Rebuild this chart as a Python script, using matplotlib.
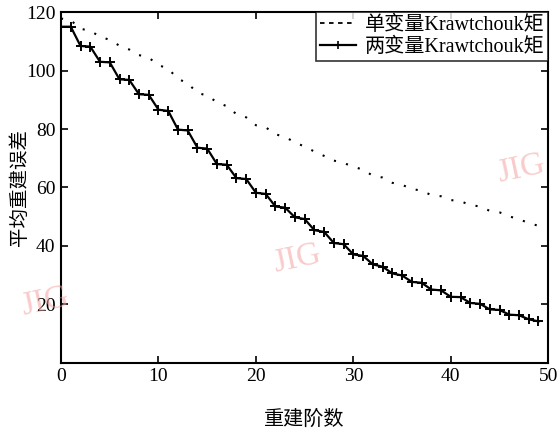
import numpy as np
import matplotlib.pyplot as plt
from matplotlib.lines import Line2D

plt.rcParams['font.family'] = ['Liberation Serif', 'Noto Sans CJK SC']
plt.rcParams['mathtext.fontset'] = 'stix'

# reconstruction order
order = np.arange(50)

# single-variable Krawtchouk moments (dotted)
err_single = [117.8, 117.2, 114.3, 113.6, 111.6, 110.5, 108.5, 107.2, 105.3, 104.4,
              101.9, 100.6, 97.2, 95.6, 92.4, 91.4, 89.2, 87.8, 85.1, 84.0,
              81.3, 80.6, 78.2, 77.3, 75.4, 74.0, 72.3, 70.8, 69.2, 68.4,
              67.1, 66.1, 64.0, 63.4, 61.6, 60.9, 59.5, 58.9, 57.4, 57.0,
              55.7, 55.3, 54.0, 53.5, 52.0, 51.5, 50.1, 49.2, 47.8, 46.9]

# bivariate Krawtchouk moments (solid with +)
err_bi = [115.0, 115.0, 108.4, 108.2, 103.0, 102.8, 97.0, 96.8, 91.9, 91.7,
          86.6, 86.2, 79.8, 79.5, 73.6, 73.3, 68.0, 67.8, 63.2, 62.9,
          58.2, 57.8, 53.5, 53.1, 49.8, 49.2, 45.4, 44.8, 41.0, 40.6,
          37.1, 36.6, 33.7, 32.9, 30.6, 29.9, 27.7, 27.4, 25.1, 24.8,
          22.6, 22.5, 20.5, 20.2, 18.3, 18.1, 16.5, 16.3, 14.9, 14.2]

labels = ['单变量Krawtchouk矩', '两变量Krawtchouk矩']

fig = plt.figure(figsize=(5.6, 4.32), dpi=100)
ax = fig.add_axes([0.109, 0.160, 0.870, 0.812])

ax.plot(order, err_single, color='black', lw=1.5, linestyle=(0, (1.0, 5.0)))
ax.plot(order, err_bi, color='black', lw=1.6, marker='+', markersize=7, markeredgewidth=1.4)

ax.set_xlim(0, 50)
ax.set_ylim(0, 120)
ax.set_xticks([0, 10, 20, 30, 40, 50])
ax.set_yticks([20, 40, 60, 80, 100, 120])
ax.tick_params(direction='in', length=5, width=1.2, top=True, right=True,
               labelsize=14, pad=4)
for sp in ax.spines.values():
    sp.set_linewidth(1.5)

ax.set_xlabel('重建阶数', fontsize=14.5, labelpad=18)
ax.set_ylabel('平均重建误差', fontsize=14, labelpad=-2)

handles = [Line2D([], [], color='black', lw=1.3, linestyle=(0, (2.5, 2.5))),
           Line2D([], [], color='black', lw=1.6, marker='+', markersize=6, markeredgewidth=1.2)]
leg = ax.legend(handles, labels, loc='upper right', fontsize=14.5, frameon=True,
                fancybox=False, edgecolor='black', borderaxespad=0.0,
                handlelength=1.8, handletextpad=0.4, borderpad=0.2,
                labelspacing=0.1, markerscale=1.0)
leg.get_frame().set_linewidth(1.2)

# faint watermarks
for (wx, wy) in [(0.08, 0.3), (0.53, 0.4), (0.93, 0.61)]:
    fig.text(wx, wy, 'JIG', fontsize=24, color='#f4a0a0', alpha=0.55,
             rotation=12, ha='center', va='center')

fig.savefig('out.png', dpi=100)
